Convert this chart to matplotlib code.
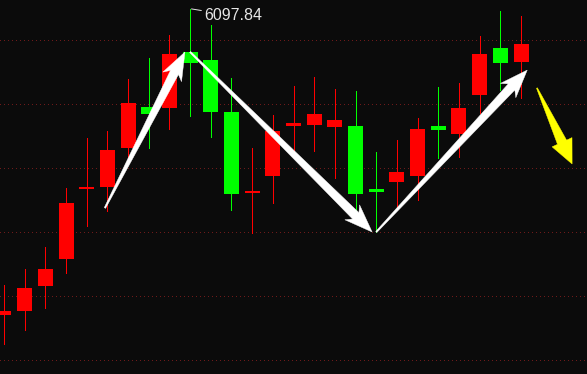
import matplotlib
matplotlib.use("Agg")
import matplotlib.pyplot as plt
import numpy as np
from matplotlib.patches import Polygon
from matplotlib.ticker import MultipleLocator

# daily candles, oldest first
opens = [5140.6, 5153.1, 5231.3, 5315.6, 5534.4, 5540.6, 5662.5, 5790.6, 5787.5, 5962.5,
         5937.5, 5775.0, 5521.9, 5575.0, 5731.3, 5734.4, 5728.1, 5731.3, 5534.4, 5556.3,
         5575.0, 5731.3, 5706.3, 5828.1, 5975.0, 5931.3]
highs = [5234.4, 5284.4, 5353.1, 5537.5, 5693.8, 5715.6, 5878.1, 5943.8, 6015.6, 6097.84,
         6046.9, 5881.3, 5662.5, 5765.6, 5856.3, 5884.4, 5846.9, 5840.6, 5650.0, 5687.5,
         5756.3, 5853.1, 5865.6, 6012.5, 6090.6, 6075.0]
lows = [5050.0, 5093.8, 5162.5, 5271.9, 5418.8, 5465.6, 5625.0, 5662.5, 5721.9, 5762.5,
        5696.9, 5468.8, 5396.9, 5490.6, 5646.9, 5653.1, 5568.8, 5462.5, 5400.0, 5478.1,
        5500.0, 5631.3, 5634.4, 5771.9, 5843.8, 5818.8]
closes = [5153.1, 5225.0, 5284.4, 5490.6, 5540.6, 5656.3, 5803.1, 5768.8, 5956.3, 5928.1,
          5775.0, 5518.8, 5528.1, 5715.6, 5740.6, 5768.8, 5750.0, 5518.8, 5525.0, 5587.5,
          5721.9, 5718.8, 5787.5, 5956.3, 5928.1, 5987.5]

peak_label = "6097.84"
peak_idx = 9

# trend arrows: (start index, start price, end index, end price)
white_arrows = [(4.88, 5475.0, 8.75, 5962.5),
                (9.0, 5962.5, 17.8, 5400.0),
                (18.0, 5400.0, 25.3, 5906.0)]
yellow_arrow = (25.77, 5850.0, 27.47, 5612.5)

BG = "#0b0b0b"
UP = "#ff0000"
DOWN = "#00ff00"

fig = plt.figure(figsize=(5.87, 3.74), dpi=100, facecolor=BG)
ax = fig.add_axes([0, 0, 1, 1], facecolor=BG)
ax.set_xlim(-0.193, 28.19)
ax.set_ylim(4956.25, 6125)

x = np.arange(len(opens))
o = np.array(opens)
c = np.array(closes)
cols = [UP if cc >= oo else DOWN for oo, cc in zip(o, c)]

ax.yaxis.set_major_locator(MultipleLocator(200))
ax.grid(axis="y", color="#6e1a1a", linestyle=(0, (1, 3)), linewidth=0.72,
        antialiased=False)
ax.set_axisbelow(True)

ax.vlines(x, lows, highs, colors=cols, linewidth=0.7, antialiased=False, zorder=2)
ax.bar(x, np.abs(c - o), bottom=np.minimum(o, c), width=0.725, color=cols,
       linewidth=0, antialiased=False, zorder=3)

for s in ax.spines.values():
    s.set_visible(False)
ax.set_xticks([])
ax.tick_params(left=False, labelleft=False)


def arrow(x0, y0, x1, y1, color, tail_w=1.5, shaft_w=9, head_w=21, head_l=23, notch=5):
    # build the shape in pixel space, then map back to data
    p0 = ax.transData.transform((x0, y0))
    p1 = ax.transData.transform((x1, y1))
    d = p1 - p0
    L = np.hypot(*d)
    u = d / L
    v = np.array([-u[1], u[0]])
    local = [(0, -tail_w / 2), (L - head_l, -shaft_w / 2), (L - head_l - notch, -head_w / 2),
             (L, 0), (L - head_l - notch, head_w / 2), (L - head_l, shaft_w / 2),
             (0, tail_w / 2)]
    pts = [p0 + a * u + b * v for a, b in local]
    pts = ax.transData.inverted().transform(np.array(pts))
    poly = Polygon(pts, closed=True, facecolor=color, edgecolor=color, linewidth=0.3,
                   zorder=5)
    ax.add_patch(poly)
    return poly


for a in white_arrows:
    arrow(*a, color="white")

arrow(*yellow_arrow, color="#ffff00", tail_w=1.0, shaft_w=10, head_w=22, head_l=24, notch=0)

ax.annotate(peak_label, xy=(peak_idx, highs[peak_idx]), xytext=(14, -7),
            textcoords="offset pixels", color="#e6e6e6", fontsize=11.5,
            family="Liberation Sans", va="center", ha="left", zorder=6,
            arrowprops=dict(arrowstyle="-", color="#e6e6e6", lw=0.7,
                            shrinkA=0, shrinkB=1))

fig.savefig("out.png", dpi=100, facecolor=BG)
